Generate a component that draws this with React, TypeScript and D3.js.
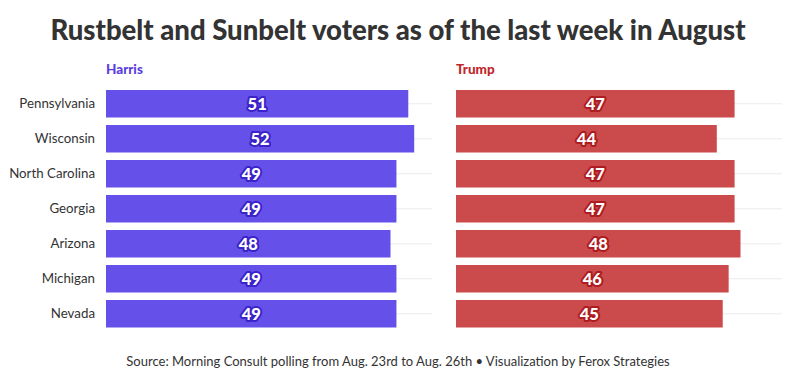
import React from "react";
import * as d3 from "d3";

const states = ["Pennsylvania", "Wisconsin", "North Carolina", "Georgia", "Arizona", "Michigan", "Nevada"];
const harris = [51, 52, 49, 49, 48, 49, 49];
const trump = [47, 44, 47, 47, 48, 46, 45];
const panels = ["Harris", "Trump"];
const title = "Rustbelt and Sunbelt voters as of the last week in August";
const source = "Source: Morning Consult polling from Aug. 23rd to Aug. 26th • Visualization by Ferox Strategies";

const W = 796, H = 380;
const FONT = "'Source Sans Pro', Lato, 'Noto Sans', sans-serif";

export default function App() {
  const y = d3.scaleBand<string>().domain(states).range([86.25, 331.25]).paddingInner(0.214).paddingOuter(0.107);
  const series = [
    { name: panels[0], values: harris, x0: 106, fill: "#6551EA", stroke: "#3B22C9", title: "#5A3FE0" },
    { name: panels[1], values: trump, x0: 456, fill: "#CB4A4B", stroke: "#AE1C20", title: "#C0262B" },
  ];
  return (
    <svg width={W} height={H} style={{ position: "absolute", left: 0, top: 0, background: "#fff" }}>
      <text x={398} y={40} textAnchor="middle" fontFamily={FONT} fontWeight={900} fontSize={27.5} fill="#333">{title}</text>
      {states.map((s) => (
        <text key={s} x={95} y={(y(s) ?? 0) + y.bandwidth() / 2} dy="0.35em" textAnchor="end" fontFamily={FONT} fontSize={13.3} fill="#333">{s}</text>
      ))}
      {series.map((p) => {
        const x = d3.scaleLinear().domain([0, 55]).range([p.x0, p.x0 + 326]);
        return (
          <g key={p.name}>
            <text x={p.x0} y={74} fontFamily={FONT} fontWeight={900} fontSize={13.5} fill={p.title}>{p.name}</text>
            {states.map((s) => (
              <line key={"g" + s} x1={x(0)} x2={x(55)} y1={(y(s) ?? 0) + y.bandwidth() / 2} y2={(y(s) ?? 0) + y.bandwidth() / 2} stroke="#ebebeb" strokeWidth={1} />
            ))}
            {states.map((s, i) => (
              <rect key={"b" + s} x={x(0)} y={y(s)} width={x(p.values[i]) - x(0)} height={y.bandwidth()} fill={p.fill} />
            ))}
            {states.map((s, i) => (
              <text key={"t" + s} x={(x(0) + x(p.values[i])) / 2} y={(y(s) ?? 0) + y.bandwidth() / 2} dy="0.36em" textAnchor="middle"
                fontFamily={FONT} fontWeight={900} fontSize={16.5} fill="#fff" stroke={p.stroke} strokeWidth={4} strokeLinejoin="round" paintOrder="stroke">{p.values[i]}</text>
            ))}
          </g>
        );
      })}
      <text x={398} y={366} textAnchor="middle" fontFamily={FONT} fontSize={13} fill="#333">{source}</text>
    </svg>
  );
}
